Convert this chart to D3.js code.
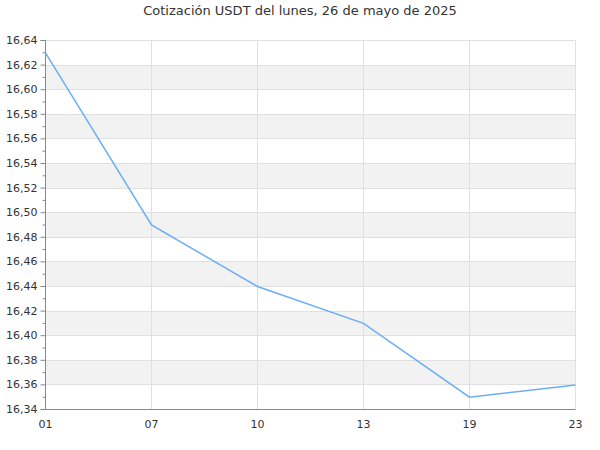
<!DOCTYPE html>
<html>
<head>
<meta charset="utf-8">
<script src="https://cdn.jsdelivr.net/npm/d3@7"></script>
<style>
body { margin: 0; background: #fff; }
text { font-family: "DejaVu Sans", sans-serif; fill: #333; }
</style>
</head>
<body>
<svg width="600" height="450"></svg>
<script>
var title = "Cotización USDT del lunes, 26 de mayo de 2025";
var hours = ["01", "07", "10", "13", "19", "23"];
var prices = [16.63, 16.49, 16.44, 16.41, 16.35, 16.36];
var yMin = 16.34, yMax = 16.64, yStep = 0.02;

var svg = d3.select("svg"),
    margin = {top: 40, right: 25, bottom: 41, left: 45},
    width = +svg.attr("width") - margin.left - margin.right,
    height = +svg.attr("height") - margin.top - margin.bottom;

var fmt = function(v) { return d3.format(".2f")(v).replace(".", ","); };

var x = d3.scalePoint().domain(hours).range([0, width]);
var y = d3.scaleLinear().domain([yMin, yMax]).range([height, 0]);

var majors = d3.range(0, Math.round((yMax - yMin) / yStep) + 1).map(function(i) { return +(yMin + i * yStep).toFixed(2); });
var minors = d3.range(0, majors.length - 1).map(function(i) { return +(yMin + i * yStep + yStep / 2).toFixed(3); });

svg.append("text")
    .attr("x", 300).attr("y", 15)
    .attr("text-anchor", "middle")
    .style("font-size", "13px")
    .text(title);

var g = svg.append("g").attr("transform", "translate(" + (margin.left + 0.5) + "," + (margin.top + 0.5) + ")");

// alternating bands
g.selectAll("rect.band")
    .data(majors.slice(0, -1).filter(function(d, i) { return i % 2 == 1; }))
    .enter().append("rect")
    .attr("class", "band")
    .attr("x", 0)
    .attr("width", width)
    .attr("y", function(d) { return y(d + yStep); })
    .attr("height", function(d) { return y(d) - y(d + yStep); })
    .attr("fill", "#f2f2f2");

// horizontal grid
g.selectAll("line.hgrid")
    .data(majors)
    .enter().append("line")
    .attr("x1", 0).attr("x2", width)
    .attr("y1", function(d) { return Math.round(y(d)); })
    .attr("y2", function(d) { return Math.round(y(d)); })
    .attr("stroke", "#e0e0e0");

// vertical grid
g.selectAll("line.vgrid")
    .data(hours)
    .enter().append("line")
    .attr("x1", function(d) { return x(d); })
    .attr("x2", function(d) { return x(d); })
    .attr("y1", 0).attr("y2", height)
    .attr("stroke", "#e0e0e0");

// y axis
var yAxis = g.append("g")
    .call(d3.axisLeft(y).tickValues(majors).tickFormat(fmt).tickSize(5).tickPadding(3).offset(0));
yAxis.selectAll("text").style("font-size", "11px").attr("fill", "#333");
yAxis.select(".domain").attr("stroke", "#888");
yAxis.selectAll(".tick line").attr("stroke", "#888");

g.append("g")
    .call(d3.axisLeft(y).tickValues(minors).tickFormat("").tickSize(3).offset(0))
    .call(function(s) { s.select(".domain").remove(); s.selectAll("line").attr("stroke", "#888"); });

// x axis
var xAxis = g.append("g")
    .attr("transform", "translate(0," + height + ")")
    .call(d3.axisBottom(x).tickSize(0).tickPadding(11).offset(0));
xAxis.selectAll("text").style("font-size", "11px").attr("fill", "#333");
xAxis.select(".domain").attr("stroke", "#888");

// line
var line = d3.line()
    .x(function(d, i) { return x(hours[i]); })
    .y(function(d) { return y(d); });

g.append("path")
    .datum(prices)
    .attr("fill", "none")
    .attr("stroke", "#6aaef5")
    .attr("stroke-width", 1.5)
    .attr("d", line);
</script>
</body>
</html>
